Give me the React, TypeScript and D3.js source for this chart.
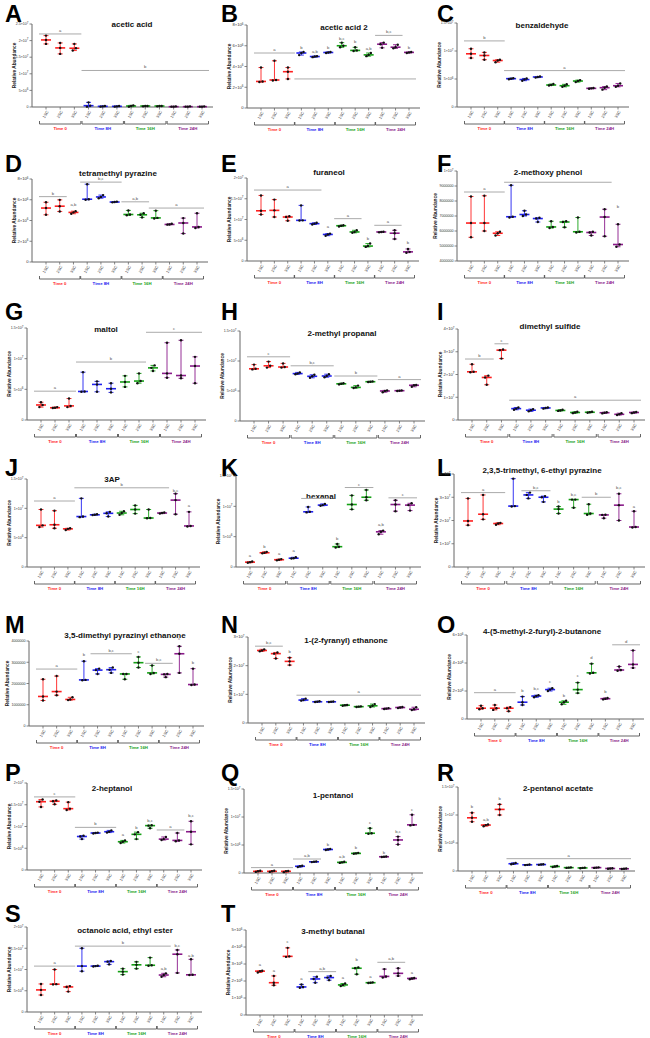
import React from 'react';
import * as d3 from 'd3';

// group labels
const timeLabels = ['Time 0', 'Time 8H', 'Time 16H', 'Time 24H'];
const replicateLabels = ['1SC', '2SC', '3SC'];
const timeColors = ['#ff1f1f', '#2020f0', '#14a014', '#8a1a8a'];

const panelLetters = ['A', 'B', 'C', 'D', 'E', 'F', 'G', 'H', 'I', 'J', 'K', 'L', 'M', 'N', 'O', 'P', 'Q', 'R', 'S', 'T'];
const panelTitles = [
  'acetic acid', 'acetic acid 2', 'benzaldehyde', 'tetramethyl pyrazine', 'furaneol', '2-methoxy phenol',
  'maltol', '2-methyl propanal', 'dimethyl sulfide', '3AP', 'hexanal', '2,3,5-trimethyl, 6-ethyl pyrazine',
  '3,5-dimethyl pyrazinyl ethanone', '1-(2-fyranyl) ethanone', '4-(5-methyl-2-furyl)-2-butanone',
  '2-heptanol', '1-pentanol', '2-pentanol acetate', 'octanoic acid, ethyl ester', '3-methyl butanal',
];

// y ticks (value) and their labels, in the units of each panel's data
const ticks25e7 = [0, 0.5, 1, 1.5, 2, 2.5];
const labels25e7 = ['0', '5×10^6', '1×10^7', '1.5×10^7', '2×10^7', '2.5×10^7'];
const ticks8e6 = [0, 2, 4, 6, 8];
const labels8e6 = ['0', '2×10^6', '4×10^6', '6×10^6', '8×10^6'];
const ticks15e6 = [0, 5, 10, 15];
const labels15e6 = ['0', '5×10^6', '1×10^7', '1.5×10^7'];
const ticks20e6 = [0, 5, 10, 15, 20];
const labels20e6 = ['0', '5×10^6', '1×10^7', '1.5×10^7', '2×10^7'];
const ticksF = [4, 5, 6, 7, 8, 9, 10];
const labelsF = ['4000000', '5000000', '6000000', '7000000', '8000000', '9000000', '1×10^7'];
const ticks4e7 = [0, 1, 2, 3, 4];
const labels4e7 = ['0', '1×10^7', '2×10^7', '3×10^7', '4×10^7'];
const ticksM = [0, 1, 2, 3, 4];
const labelsM = ['0', '1000000', '2000000', '3000000', '4000000'];
const ticks3e7 = [0, 1, 2, 3];
const labels3e7 = ['0', '1×10^7', '2×10^7', '3×10^7'];
const ticks6e6 = [0, 2, 4, 6];
const labels6e6 = ['0', '2×10^6', '4×10^6', '6×10^6'];
const ticks5e6 = [0, 1, 2, 3, 4, 5];
const labels5e6 = ['0', '1×10^6', '2×10^6', '3×10^6', '4×10^6', '5×10^6'];

// 12 groups per panel (Time 0 / 8H / 16H / 24H x 1SC 2SC 3SC): [min, median, max]
const aceticAcid = [[1.9, 2.02, 2.15], [1.6, 1.78, 1.93], [1.7, 1.77, 1.9], [0.01, 0.04, 0.14], [0.01, 0.02, 0.03], [0.01, 0.02, 0.03], [0.01, 0.03, 0.05], [0.02, 0.03, 0.03], [0.02, 0.03, 0.03], [0.01, 0.01, 0.02], [0.01, 0.01, 0.02], [0.01, 0.01, 0.02]];
const aceticAcid2 = [[2.5, 2.56, 3.9], [2.65, 2.7, 4.55], [2.8, 3.5, 3.9], [5.1, 5.3, 5.4], [4.9, 4.96, 5.0], [5.3, 5.35, 5.4], [5.85, 6.0, 6.3], [5.5, 5.55, 5.85], [5.0, 5.12, 5.3], [5.8, 6.15, 6.3], [5.75, 5.86, 6.1], [5.3, 5.36, 5.4]];
const benzaldehyde = [[8.75, 9.5, 10.4], [8.45, 9.2, 9.75], [8.0, 8.3, 8.45], [4.95, 5.06, 5.15], [4.7, 4.9, 5.1], [5.25, 5.36, 5.45], [3.85, 3.93, 4.1], [3.6, 3.8, 4.05], [4.45, 4.64, 4.8], [3.25, 3.33, 3.4], [3.1, 3.45, 3.65], [3.6, 3.8, 4.2]];
const tetramethylPyrazine = [[4.55, 5.2, 5.76], [4.87, 5.38, 5.99], [4.65, 4.78, 4.9], [6.0, 6.05, 7.5], [6.15, 6.27, 6.45], [5.75, 5.78, 5.82], [4.5, 4.58, 4.97], [4.3, 4.55, 4.7], [4.2, 4.25, 4.95], [3.6, 3.62, 3.68], [2.74, 3.76, 4.23], [3.28, 3.38, 4.7]];
const furaneol = [[11.2, 12.1, 15.8], [10.6, 12.2, 14.8], [9.7, 10.6, 10.8], [9.76, 9.8, 13.4], [8.8, 9.0, 9.2], [6.1, 6.4, 6.6], [8.3, 8.5, 8.6], [6.8, 7.0, 7.4], [3.4, 3.6, 4.2], [6.9, 7.0, 7.05], [5.3, 6.7, 7.4], [2.0, 2.2, 2.9]];
const methoxyPhenol = [[5.58, 6.53, 8.3], [6.0, 6.53, 8.35], [5.7, 5.85, 5.95], [6.9, 6.95, 9.05], [7.0, 7.1, 7.35], [6.6, 6.83, 6.88], [6.2, 6.27, 6.65], [6.25, 6.6, 6.65], [5.9, 5.95, 6.9], [5.7, 5.9, 5.95], [5.65, 6.93, 7.45], [4.95, 5.1, 6.45]];
const maltol = [[2.1, 2.45, 2.9], [1.95, 2.0, 2.1], [2.1, 2.3, 3.5], [4.6, 4.65, 7.8], [4.6, 5.8, 6.3], [4.5, 5.1, 6.0], [5.4, 6.2, 7.2], [6.0, 6.35, 7.6], [8.0, 8.5, 8.9], [6.9, 7.6, 12.6], [6.8, 7.25, 13.0], [6.0, 8.8, 10.3]];
const methylPropanal = [[8.6, 8.7, 9.4], [8.9, 9.2, 9.9], [8.9, 9.0, 9.6], [7.8, 7.9, 8.1], [7.2, 7.45, 7.7], [7.3, 7.5, 7.8], [6.1, 6.2, 6.3], [5.5, 5.6, 5.9], [6.5, 6.55, 6.6], [4.8, 5.0, 5.1], [5.0, 5.05, 5.1], [5.7, 5.95, 6.0]];
const dimethylSulfide = [[2.1, 2.12, 2.45], [1.55, 1.87, 1.95], [2.7, 3.07, 3.1], [0.45, 0.5, 0.55], [0.38, 0.43, 0.48], [0.5, 0.53, 0.55], [0.4, 0.42, 0.45], [0.3, 0.33, 0.36], [0.32, 0.34, 0.36], [0.29, 0.32, 0.34], [0.22, 0.25, 0.3], [0.3, 0.33, 0.35]];
const ap3 = [[6.8, 7.1, 9.8], [6.6, 7.2, 9.6], [6.3, 6.5, 6.6], [8.5, 8.6, 11.7], [8.85, 8.9, 9.0], [8.6, 9.15, 9.4], [8.9, 9.2, 9.5], [9.1, 9.8, 10.5], [8.3, 8.35, 9.8], [9.1, 9.2, 9.3], [9.0, 11.4, 12.5], [6.9, 7.0, 9.4]];
const hexanal = [[0.7, 0.8, 0.9], [2.25, 2.35, 2.5], [1.1, 1.2, 1.3], [1.4, 1.45, 1.6], [9.0, 9.1, 9.9], [10.1, 10.2, 10.4], [3.2, 3.35, 3.8], [9.5, 10.3, 11.8], [11.0, 11.5, 12.7], [5.4, 5.8, 6.0], [9.2, 10.3, 11.0], [9.3, 10.2, 10.5]];
const ethylPyrazine = [[1.8, 1.98, 2.95], [2.05, 2.27, 3.1], [1.82, 1.87, 1.9], [2.6, 2.62, 3.8], [2.95, 3.1, 3.2], [2.8, 3.0, 3.05], [2.3, 2.49, 2.6], [2.55, 2.9, 2.9], [2.25, 2.3, 2.7], [2.1, 2.24, 2.25], [2.0, 2.66, 3.15], [1.7, 1.72, 2.4]];
const pyrazinylEthanone = [[1.2, 1.39, 2.2], [1.45, 1.62, 2.35], [1.22, 1.25, 1.35], [2.15, 2.17, 3.05], [2.45, 2.63, 2.7], [2.5, 2.65, 2.75], [2.2, 2.45, 2.45], [2.75, 2.98, 3.25], [2.45, 2.5, 2.85], [2.3, 2.43, 2.45], [2.5, 3.4, 3.75], [1.93, 1.95, 2.7]];
const fyranylEthanone = [[2.5, 2.53, 2.57], [2.25, 2.42, 2.46], [2.02, 2.15, 2.28], [0.78, 0.8, 0.85], [0.73, 0.74, 0.76], [0.73, 0.74, 0.75], [0.6, 0.62, 0.63], [0.56, 0.57, 0.58], [0.56, 0.6, 0.66], [0.49, 0.5, 0.52], [0.52, 0.54, 0.56], [0.45, 0.48, 0.55]];
const furylButanone = [[0.7, 0.77, 0.95], [0.65, 0.77, 1.0], [0.55, 0.77, 0.85], [1.0, 1.2, 1.6], [1.55, 1.64, 1.7], [2.0, 2.1, 2.2], [1.05, 1.2, 1.3], [1.85, 2.1, 2.6], [3.25, 3.3, 3.95], [1.4, 1.45, 1.5], [3.45, 3.5, 3.75], [3.65, 3.9, 4.9]];
const heptanol = [[14.5, 15.7, 16.2], [15.1, 15.8, 16.0], [13.8, 14.1, 15.6], [7.1, 7.7, 7.9], [8.4, 8.5, 8.6], [8.6, 8.8, 9.1], [6.2, 6.5, 6.8], [7.1, 8.2, 8.7], [9.6, 10.2, 10.3], [6.9, 7.1, 7.6], [6.6, 6.8, 8.5], [5.9, 8.8, 11.2]];
const pentanol = [[0.2, 0.3, 0.4], [0.2, 0.3, 0.4], [0.15, 0.3, 0.35], [1.05, 1.2, 1.3], [1.95, 2.0, 2.05], [4.1, 4.2, 4.3], [1.8, 1.9, 2.0], [3.45, 3.5, 3.6], [7.0, 7.1, 8.0], [2.85, 2.9, 2.95], [5.1, 5.9, 6.5], [8.5, 8.6, 10.4]];
const pentanolAcetate = [[8.8, 9.5, 10.4], [8.0, 8.2, 8.3], [10.0, 11.0, 11.9], [1.2, 1.3, 1.45], [1.05, 1.1, 1.15], [1.1, 1.15, 1.2], [0.7, 0.8, 0.9], [0.55, 0.6, 0.65], [0.5, 0.55, 0.6], [0.55, 0.6, 0.65], [0.4, 0.45, 0.5], [0.35, 0.4, 0.45]];
const octanoicEster = [[4.0, 5.2, 6.6], [6.5, 6.55, 10.0], [4.8, 5.9, 6.1], [9.6, 10.8, 15.0], [10.7, 10.8, 10.9], [11.2, 11.85, 12.0], [8.8, 9.5, 10.2], [10.2, 11.1, 11.8], [10.9, 11.0, 12.8], [8.3, 8.7, 9.1], [9.2, 13.6, 14.6], [8.7, 8.75, 12.4]];
const methylButanal = [[2.5, 2.58, 2.6], [1.75, 1.9, 2.3], [3.42, 3.45, 3.95], [1.6, 1.65, 1.8], [1.9, 2.12, 2.25], [2.05, 2.2, 2.3], [1.7, 1.77, 1.85], [2.4, 2.75, 2.8], [1.88, 1.9, 1.92], [2.2, 2.27, 2.7], [2.3, 2.45, 2.75], [2.1, 2.15, 2.18]];

// significance letters: [fromGroup, toGroup, value, letter, drawLine]
type Sig = [number, number, number, string, number];
const sigA: Sig[] = [[0, 2, 2.2, 'a', 1], [3, 11, 1.1, 'b', 1]];
const sigB: Sig[] = [[0, 2, 5.3, 'a', 1], [3, 11, 2.8, '', 1], [3, 3, 5.7, 'b', 0], [4, 4, 5.3, 'a,b', 0], [5, 5, 5.7, 'b', 0], [6, 6, 6.6, 'b,c', 0], [7, 7, 6.3, 'b', 0], [8, 8, 5.6, 'a,b', 0], [9, 10, 7.0, 'b,c', 1], [11, 11, 5.7, 'b', 0]];
const sigC: Sig[] = [[0, 2, 11.8, 'b', 1], [3, 11, 6.5, 'a', 1]];
const sigD: Sig[] = [[0, 1, 6.3, 'b', 1], [2, 2, 5.4, 'a,b', 0], [3, 5, 7.7, 'b,c', 1], [6, 7, 5.8, 'a,b', 1], [8, 11, 5.2, 'a', 1]];
const sigE: Sig[] = [[0, 4, 17.1, 'a', 1], [5, 5, 8.0, 'a', 0], [6, 7, 10.2, 'a', 1], [8, 8, 5.0, 'b', 0], [9, 10, 8.6, 'a', 1], [11, 11, 4.0, 'b', 0]];
const sigF: Sig[] = [[0, 2, 8.6, 'a', 1], [3, 10, 9.25, '', 1], [11, 11, 7.55, 'b', 0]];
const sigG: Sig[] = [[0, 2, 4.7, 'a', 1], [3, 7, 9.45, 'b', 1], [8, 11, 14.3, 'c', 1]];
const sigH: Sig[] = [[0, 2, 10.7, 'c', 1], [3, 5, 9.2, 'b,c', 1], [6, 8, 7.5, 'b', 1], [9, 11, 6.9, 'a', 1]];
const sigI: Sig[] = [[0, 1, 2.68, 'b', 1], [2, 2, 3.35, 'c', 1], [3, 11, 0.87, 'a', 1]];
const sigJ: Sig[] = [[0, 2, 11.25, 'a', 1], [3, 9, 13.5, 'b', 1], [10, 10, 12.8, 'b,c', 0], [11, 11, 10.2, 'a', 0]];
const sigK: Sig[] = [[0, 0, 1.6, 'a', 0], [1, 1, 3.2, 'b', 0], [2, 2, 2.0, 'a', 0], [3, 3, 2.4, 'a', 0], [4, 5, 11.3, '', 1], [6, 6, 4.5, 'b', 0], [7, 8, 13.1, 'c', 1], [9, 9, 6.8, 'a,b', 0], [10, 11, 11.4, 'c', 1]];
const sigL: Sig[] = [[0, 2, 3.2, 'a', 1], [4, 5, 3.28, 'b,c', 1], [6, 6, 2.75, 'b', 0], [7, 7, 3.05, 'b,c', 0], [8, 9, 3.0, 'b', 1], [10, 10, 3.35, 'b,c', 0], [11, 11, 2.55, 'a', 0]];
const sigM: Sig[] = [[0, 2, 2.68, 'a', 1], [3, 3, 3.3, 'b', 0], [4, 6, 3.4, 'b,c', 1], [7, 7, 3.45, 'c', 0], [8, 9, 2.95, 'b,c', 1], [10, 10, 4.05, 'c', 0], [11, 11, 2.9, 'b', 0]];
const sigN: Sig[] = [[0, 1, 2.68, 'b,c', 1], [2, 2, 2.45, 'b', 0], [3, 11, 0.97, 'a', 1]];
const sigO: Sig[] = [[0, 2, 1.88, 'a', 1], [3, 3, 1.9, 'b', 0], [4, 4, 2.05, 'b,c', 0], [5, 5, 2.6, 'c', 0], [6, 6, 1.6, 'b', 0], [7, 7, 3.0, 'c', 0], [8, 8, 4.3, 'd', 0], [9, 9, 1.85, 'b', 0], [10, 11, 5.3, 'd', 1]];
const sigP: Sig[] = [[0, 2, 16.8, 'c', 1], [3, 5, 9.8, 'b', 1], [6, 6, 7.8, 'a', 0], [7, 7, 9.5, 'b', 0], [8, 8, 11.0, 'b,c', 0], [9, 10, 9.2, 'a', 1], [11, 11, 12.2, 'b,c', 0]];
const sigQ: Sig[] = [[0, 2, 0.96, 'a', 1], [3, 4, 2.5, 'a,b', 1], [5, 5, 4.8, 'b', 0], [6, 6, 2.7, 'a,b', 0], [7, 7, 4.3, 'b', 0], [8, 8, 8.7, 'c', 0], [9, 9, 3.4, 'b', 0], [10, 10, 7.2, 'b,c', 0], [11, 11, 11.0, 'c', 0]];
const sigR: Sig[] = [[0, 0, 11.2, 'b', 0], [1, 1, 9.0, 'a,b', 0], [2, 2, 12.7, 'b', 0], [3, 11, 2.2, 'a', 1]];
const sigS: Sig[] = [[0, 2, 10.8, 'a', 1], [3, 9, 15.5, 'b', 1], [9, 9, 9.9, 'a,b', 0], [10, 10, 15.2, 'b,c', 0], [11, 11, 13.0, 'a,b', 0]];
const sigT: Sig[] = [[0, 0, 2.9, 'a', 0], [1, 1, 2.55, 'a', 0], [2, 2, 4.25, 'c', 0], [3, 3, 2.05, 'a', 0], [4, 5, 2.55, 'a,b', 1], [6, 6, 2.1, 'a', 0], [7, 7, 3.15, 'b', 0], [8, 8, 2.15, 'a', 0], [9, 10, 3.1, 'a,b', 1], [11, 11, 2.4, 'a', 0]];

const panelData = [aceticAcid, aceticAcid2, benzaldehyde, tetramethylPyrazine, furaneol, methoxyPhenol, maltol, methylPropanal, dimethylSulfide, ap3, hexanal, ethylPyrazine, pyrazinylEthanone, fyranylEthanone, furylButanone, heptanol, pentanol, pentanolAcetate, octanoicEster, methylButanal];
const panelTicks = [ticks25e7, ticks8e6, ticks15e6, ticks8e6, ticks20e6, ticksF, ticks15e6, ticks15e6, ticks4e7, ticks15e6, ticks15e6, ticks4e7, ticksM, ticks3e7, ticks6e6, ticks20e6, ticks15e6, ticks15e6, ticks20e6, ticks5e6];
const panelTickLabels = [labels25e7, labels8e6, labels15e6, labels8e6, labels20e6, labelsF, labels15e6, labels15e6, labels4e7, labels15e6, labels15e6, labels4e7, labelsM, labels3e7, labels6e6, labels20e6, labels15e6, labels15e6, labels20e6, labels5e6];
const panelSigs = [sigA, sigB, sigC, sigD, sigE, sigF, sigG, sigH, sigI, sigJ, sigK, sigL, sigM, sigN, sigO, sigP, sigQ, sigR, sigS, sigT];

// layout: [panelX, letterTop, axisX, rightX, plotTop, plotBottom, titleX, titleBaseline, yLabelOffset]
const layout = [
  [0, 3, 32, 213, 24, 107, 132, 27, 16], [216, 3, 31, 204, 25, 108, 128, 30, 16], [432, 3, 25, 197, 23, 107, 110, 28, 16],
  [0, 153, 32, 208, 179, 262, 118, 176, 16], [216, 153, 31, 203, 178, 261, 113, 175, 16], [432, 153, 25, 197, 171, 261, 116, 175, 20],
  [0, 301, 27, 206, 328, 420, 106, 332, 16], [216, 301, 24, 209, 331, 421, 126, 336, 16], [432, 301, 26, 213, 329, 420, 118, 329, 16],
  [0, 457, 27, 200, 479, 567, 112, 482, 16], [216, 457, 20, 205, 476, 567, 105, 499, 16], [432, 457, 22, 213, 474, 567, 110, 473, 16],
  [0, 614, 29, 204, 641, 726, 125, 638, 20], [216, 614, 32, 209, 637, 723, 130, 643, 16], [432, 614, 35, 212, 635, 719, 110, 634, 16],
  [0, 762, 27, 202, 783, 870, 112, 791, 16], [216, 762, 28, 207, 789, 873, 117, 798, 16], [432, 762, 26, 203, 787, 871, 126, 791, 16],
  [0, 903, 27, 202, 927, 1012, 125, 933, 16], [216, 903, 30, 207, 930, 1015, 117, 934, 16],
];

const FONT = '"Liberation Sans", Arial, sans-serif';

const TickLabel = ({ s, x, y, size }: { s: string; x: number; y: number; size: number }) => {
  const [base, exp] = s.split('^');
  return (
    <text x={x} y={y} dy="0.35em" textAnchor="end" fontSize={size} fill="#333" fontFamily={FONT}>
      {base}
      {exp && <tspan dy={-1.6} fontSize={3}>{exp}</tspan>}
    </text>
  );
};

const Panel = ({ i }: { i: number }) => {
  const [ox, ly, ax, rx, top, bottom, tx, ty, yl] = layout[i];
  const left = ox + ax;
  const right = ox + rx;
  const ticks = panelTicks[i];
  const y = d3.scaleLinear().domain([ticks[0], ticks[ticks.length - 1]]).range([bottom, top]);
  const x = d3.scalePoint<number>().domain(d3.range(12)).range([left + 14, right - 11]);
  const data = panelData[i];
  const longLabels = panelTickLabels[i].some((s) => s.length > 6);

  return (
    <g>
      <text x={ox + 5} y={ly + 18.5} fontSize={23.5} fontWeight={700} fontFamily={FONT} fill="#000">
        {panelLetters[i]}
      </text>
      <text x={ox + tx} y={ty} textAnchor="middle" fontSize={8} fontWeight={700} fontFamily={FONT} fill="#111">
        {panelTitles[i]}
      </text>
      {/* y axis */}
      <line x1={left} x2={left} y1={top} y2={bottom} stroke="#666" strokeWidth={1} />
      {ticks.map((t, k) => (
        <g key={k}>
          <line x1={left - 2.5} x2={left} y1={y(t)} y2={y(t)} stroke="#666" strokeWidth={0.8} />
          <TickLabel s={panelTickLabels[i][k]} x={left - 3.5} y={y(t)} size={longLabels ? 3.6 : 4.2} />
        </g>
      ))}
      <text transform={`translate(${left - yl},${(top + bottom) / 2}) rotate(-90)`} textAnchor="middle" fontSize={4.8} fontWeight={700} fontFamily={FONT} fill="#222">
        Relative Abundance
      </text>
      {/* x axis */}
      <line x1={left} x2={right} y1={bottom} y2={bottom} stroke="#666" strokeWidth={1} />
      {d3.range(12).map((g) => (
        <g key={g}>
          <line x1={x(g)} x2={x(g)} y1={bottom} y2={bottom + 2.5} stroke="#666" strokeWidth={0.8} />
          <text transform={`translate(${x(g)! + 1.5},${bottom + 4}) rotate(-60)`} textAnchor="end" dy="0.35em" fontSize={4} fill="#333" fontFamily={FONT}>
            {replicateLabels[g % 3]}
          </text>
        </g>
      ))}
      {/* time brackets */}
      {timeLabels.map((lab, t) => {
        const x1 = x(3 * t)! - 6.5;
        const x2 = x(3 * t + 2)! + 6.5;
        const by = bottom + 17;
        return (
          <g key={lab}>
            <path d={`M${x1},${by - 3}V${by}H${x2}V${by - 3}`} fill="none" stroke="#555" strokeWidth={0.9} />
            <text x={(x1 + x2) / 2} y={by + 5.5} textAnchor="middle" fontSize={4.3} fontWeight={700} fill={timeColors[t]} fontFamily={FONT}>
              {lab}
            </text>
          </g>
        );
      })}
      {/* significance */}
      {panelSigs[i].map(([a, b, v, lab, ln], k) => {
        const x1 = x(a)! - 7;
        const x2 = x(b)! + 7;
        const yy = y(v);
        return (
          <g key={k}>
            {ln ? <line x1={x1} x2={x2} y1={yy} y2={yy} stroke="#aaa" strokeWidth={1} /> : null}
            <text x={(x(a)! + x(b)!) / 2} y={ln ? yy - 2 : yy} textAnchor="middle" fontSize={4.2} fill="#555" fontFamily={FONT}>
              {lab}
            </text>
          </g>
        );
      })}
      {/* groups: range, median, points */}
      {data.map((vals, g) => {
        const c = timeColors[Math.floor(g / 3)];
        const cx = x(g)!;
        const [lo, med, hi] = vals;
        const ys = vals.map((v) => y(v));
        const dx = [0, 0, 0];
        const c01 = Math.abs(ys[0] - ys[1]) < 2.5;
        const c12 = Math.abs(ys[1] - ys[2]) < 2.5;
        if (c01 && c12) { dx[0] = -2.2; dx[2] = 2.2; }
        else if (c01) { dx[0] = -1.6; dx[1] = 1.6; }
        else if (c12) { dx[1] = -1.6; dx[2] = 1.6; }
        return (
          <g key={g}>
            <line x1={cx} x2={cx} y1={y(lo)} y2={y(hi)} stroke={c} strokeWidth={0.9} />
            <line x1={cx - 2.5} x2={cx + 2.5} y1={y(lo)} y2={y(lo)} stroke={c} strokeWidth={0.9} />
            <line x1={cx - 2.5} x2={cx + 2.5} y1={y(hi)} y2={y(hi)} stroke={c} strokeWidth={0.9} />
            <line x1={cx - 5} x2={cx + 5} y1={y(med)} y2={y(med)} stroke={c} strokeWidth={1.6} />
            {ys.map((py, k) => (
              <circle key={k} cx={cx + dx[k]} cy={py} r={1.2} fill="#111" />
            ))}
          </g>
        );
      })}
    </g>
  );
};

export default function App() {
  return (
    <svg width={650} height={1038} style={{ position: 'absolute', left: 0, top: 0, background: '#fff' }}>
      <rect width={650} height={1038} fill="#fff" />
      {panelLetters.map((_, i) => (
        <Panel key={i} i={i} />
      ))}
    </svg>
  );
}
